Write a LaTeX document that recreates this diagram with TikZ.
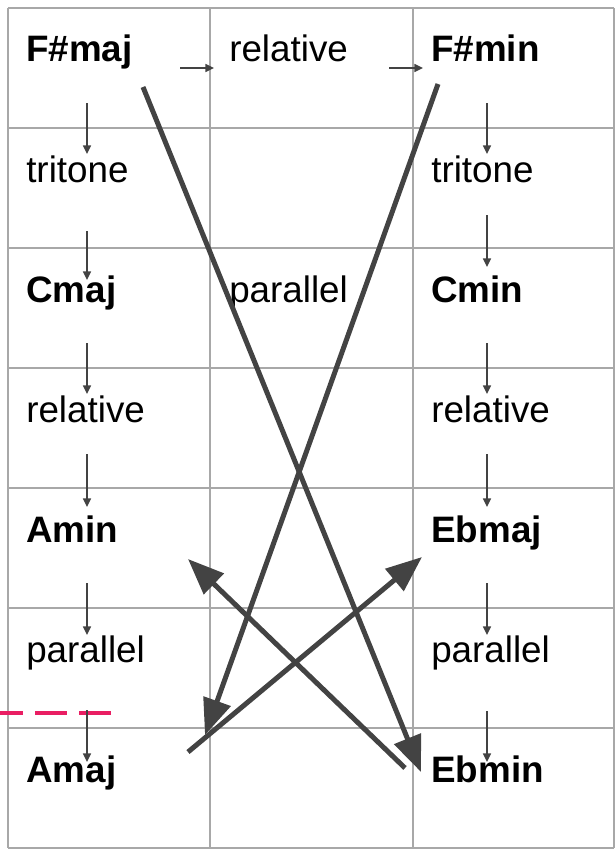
\documentclass[tikz,border=0pt]{standalone}
\usepackage{fontspec}
\setmainfont{Liberation Sans}
\usepackage{xcolor}
\usepackage{tikz}
\usetikzlibrary{calc, arrows.meta}
\definecolor{gridColor}{HTML}{A8A8A8}
\definecolor{arrowColor}{HTML}{434343}
\definecolor{markColor}{HTML}{E91E63}

\begin{document}
\begin{tikzpicture}[x=0.75pt, y=-0.75pt,
    cellText/.style={anchor=base west, inner sep=0pt, font=\fontsize{27.6}{32}\selectfont},
    keyText/.style={cellText, font=\fontsize{27.6}{32}\selectfont\bfseries},
    smallArrow/.style={-{Triangle[length=6.5pt, width=6pt]}, line width=1.1pt, arrowColor},
    bigArrow/.style={-{Triangle[length=27pt, width=21pt]}, line width=3.75pt, arrowColor}]
    \useasboundingbox (0, 0) rectangle (615, 849);

    \foreach \x in {8, 210, 413, 614}
        \draw[gridColor, line width=1.5pt] (\x, 8) -- (\x, 848);
    \foreach \y in {8, 128, ..., 848}
        \draw[gridColor, line width=1.5pt] (8, \y) -- (614, \y);

    \node[keyText] (fsmaj) at (26, 62) {F\#maj};
    \node[cellText] (rel) at (229, 62) {relative};
    \node[keyText] (fsmin) at (431, 62) {F\#min};
    \node[cellText] (triMaj) at (26, 182) {tritone};
    \node[cellText] (triMin) at (431, 182) {tritone};
    \node[keyText] (cmaj) at (26, 302) {Cmaj};
    \node[cellText] (par) at (229, 302) {parallel};
    \node[keyText] (cmin) at (431, 302) {Cmin};
    \node[cellText] (relMaj) at (26, 422) {relative};
    \node[cellText] (relMin) at (431, 422) {relative};
    \node[keyText] (amin) at (26, 542) {Amin};
    \node[keyText] (ebmaj) at (431, 542) {Ebmaj};
    \node[cellText] (parMaj) at (26, 662) {parallel};
    \node[cellText] (parMin) at (431, 662) {parallel};
    \node[keyText] (amaj) at (26, 782) {Amaj};
    \node[keyText] (ebmin) at (431, 782) {Ebmin};

    \draw[markColor, line width=3pt, dash pattern=on 24pt off 9pt, dash phase=6.75pt] (0, 713) -- (111, 713);

    \foreach \a/\b/\s/\e in {fsmaj/triMaj/41/28, triMaj/cmaj/49/22, cmaj/relMaj/41/28,
                             relMaj/amin/32/35, amin/parMaj/41/27, parMaj/amaj/48/20}
        \draw[smallArrow] ($(\a.base west)+(61,\s)$) -- ($(\b.base west)+(61,-\e)$);
    \foreach \a/\b/\s/\e in {fsmin/triMin/41/28, triMin/cmin/33/35, cmin/relMin/41/28,
                             relMin/ebmaj/32/35, ebmaj/parMin/41/27, parMin/ebmin/49/20}
        \draw[smallArrow] ($(\a.base west)+(56,\s)$) -- ($(\b.base west)+(56,-\e)$);
    \draw[smallArrow] ($(fsmaj.base west)+(154,6)$) -- ($(rel.base west)+(-15,6)$);
    \draw[smallArrow] ($(rel.base west)+(160,6)$) -- ($(fsmin.base west)+(-8,6)$);

    \draw[bigArrow] ($(fsmaj.base west)+(117,25)$) -- ($(ebmin.base west)+(-10,-10)$);
    \draw[bigArrow] ($(fsmin.base west)+(7,22)$) -- ($(amaj.base west)+(179,-47)$);
    \draw[bigArrow] ($(amaj.base west)+(162,-30)$) -- ($(ebmaj.base west)+(-9,15)$);
    \draw[bigArrow] ($(ebmin.base west)+(-26,-14)$) -- ($(amin.base west)+(162,17)$);
\end{tikzpicture}
\end{document}
